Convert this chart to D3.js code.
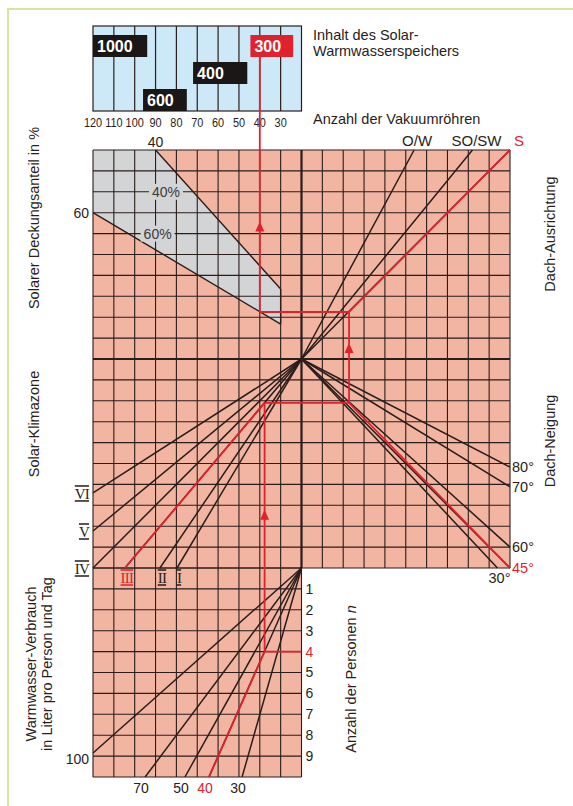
<!DOCTYPE html>
<html><head><meta charset="utf-8">
<script src="https://cdn.jsdelivr.net/npm/d3@7"></script>
<style>body{margin:0;background:#fff}svg{display:block}</style>
</head><body><svg id="c" width="573" height="806"></svg>
<script>
// ---------- data (grid units: u = columns from centre, v = rows from centre) ----------
const storageLabels = ["1000", "600", "400", "300"];
const storageFrom   = [120, 96, 72, 44.5];   // tube value of box left edge
const storageTo     = [94, 75, 46, 24];      // tube value of box right edge
const storageLevel  = [0, 2, 1, 0];
const tubeTicks     = [120, 110, 100, 90, 80, 70, 60, 50, 40, 30];

const coverageLabels   = ["40%", "60%"];
const coverageEndNames = ["40", "60"];
const coverageStart    = [[-7, 10], [-10, 7]];
const coverageEnd      = [[-1, 3.35], [-1, 1.67]];

const orientations   = ["O/W", "SO/SW", "S"];
const orientationEnd = [[5.4, 10], [8.2, 10], [10, 10]];

const tilts   = ["80°", "70°", "60°", "45°", "30°"];
const tiltEnd = [[10, -5.17], [10, -6.12], [10, -9.0], [10, -10], [9.4, -10]];

const zones   = ["VI", "V", "IV", "III", "II", "I"];
const zoneEnd = [[-10, -6.41], [-10, -8.23], [-10, -10], [-8.47, -10], [-6.79, -10], [-5.97, -10]];

const liters   = ["100", "70", "50", "40", "30"];
const literEnd = [[-10, -18.85], [-7.5, -20], [-5.59, -20], [-4.44, -20], [-2.85, -20]];

const persons = [1, 2, 3, 4, 5, 6, 7, 8, 9];

// worked example (red)
const exPersons = 4, exLiters = "40", exZone = "III", exTilt = "45°", exOrient = "S", exStorage = "300";
const exVerticalU   = [-1.77, 2.28, -2.0];  // lower, right, top vertical
const exHorizontalV = [-2.1, 2.25];          // zone junction, orientation junction

// ---------- setup ----------
const RED = "#e1222e", INK = "#2a1d1b", SALMON = "#f2b5a1", GREY = "#d3d4d6", BLUE = "#cde9f7";
const FONT = "'Liberation Sans', Arial, sans-serif";
const svg = d3.select("#c");
const xU = d3.scaleLinear().domain([-10, 10]).range([93, 510]);
const yV = d3.scaleLinear().domain([10, -20]).range([150, 777]);
const xT = d3.scaleLinear().domain([120, 20]).range([xU(-10), xU(0)]);
const P = p => [xU(p[0]), yV(p[1])];
const line = d3.line();

// frame
svg.append("path").attr("d", "M8,806V9H573").attr("fill", "none")
  .attr("stroke", "#d6e69c").attr("stroke-width", 2);

// ---------- top storage box ----------
const boxTop = 26, boxBot = 111, rowY = l => 35 + l * 27, rowH = 22;
svg.append("rect").attr("x", xT(120)).attr("y", boxTop).attr("width", xT(20) - xT(120))
  .attr("height", boxBot - boxTop).attr("fill", BLUE).attr("stroke", INK).attr("stroke-width", 1.2);
svg.selectAll(".tv").data(tubeTicks.slice(1)).join("line")
  .attr("x1", d => xT(d)).attr("x2", d => xT(d)).attr("y1", boxTop).attr("y2", boxBot)
  .attr("stroke", INK).attr("stroke-width", 1.2);
svg.selectAll(".tt").data(tubeTicks).join("text")
  .attr("transform", d => `translate(${xT(d)},122) scale(0.84,1)`).attr("dy", "0.35em").attr("text-anchor", "middle")
  .attr("font-family", FONT).attr("font-size", 13).attr("fill", INK).text(d => d);

// ---------- grid background ----------
svg.append("rect").attr("x", xU(-10)).attr("y", yV(10)).attr("width", xU(10) - xU(-10))
  .attr("height", yV(-10) - yV(10)).attr("fill", SALMON);
svg.append("rect").attr("x", xU(-10)).attr("y", yV(-10)).attr("width", xU(0) - xU(-10))
  .attr("height", yV(-20) - yV(-10)).attr("fill", SALMON);

// grey coverage band
const greyPoly = [[-10, 10], coverageStart[0], coverageEnd[0], coverageEnd[1], coverageStart[1]];
svg.append("path").attr("d", line(greyPoly.map(P)) + "Z").attr("fill", GREY);

// grid lines
const g = svg.append("g").attr("stroke", INK).attr("stroke-width", 1.1);
d3.range(-10, 11).forEach(k => {
  g.append("line").attr("x1", xU(k)).attr("x2", xU(k)).attr("y1", yV(10)).attr("y2", yV(-10));
  g.append("line").attr("x1", xU(-10)).attr("x2", xU(10)).attr("y1", yV(k)).attr("y2", yV(k));
});
d3.range(-10, 1).forEach(k => {
  g.append("line").attr("x1", xU(k)).attr("x2", xU(k)).attr("y1", yV(-10)).attr("y2", yV(-20));
});
d3.range(-20, -9).forEach(k => {
  g.append("line").attr("x1", xU(-10)).attr("x2", xU(0)).attr("y1", yV(k)).attr("y2", yV(k));
});
g.append("line").attr("x1", xU(0)).attr("x2", xU(0)).attr("y1", yV(10)).attr("y2", yV(-10)).attr("stroke-width", 2.2);
g.append("line").attr("x1", xU(-10)).attr("x2", xU(10)).attr("y1", yV(0)).attr("y2", yV(0)).attr("stroke-width", 2.2);

// coverage lines
coverageStart.forEach((s, i) => {
  svg.append("path").attr("d", line([s, coverageEnd[i]].map(P))).attr("stroke", INK).attr("stroke-width", 1.4).attr("fill", "none");
});
svg.append("line").attr("x1", xU(-1)).attr("x2", xU(-1)).attr("y1", yV(coverageEnd[0][1])).attr("y2", yV(coverageEnd[1][1]))
  .attr("stroke", INK).attr("stroke-width", 1.4);
// coverage labels with grey background
const covLabelPos = [[-6.5, 8], [-6.9, 6]];
coverageLabels.forEach((t, i) => {
  const [x, y] = P(covLabelPos[i]);
  svg.append("rect").attr("x", x - 17).attr("y", y - 8).attr("width", 34).attr("height", 16).attr("fill", GREY);
  svg.append("text").attr("x", x).attr("y", y).attr("dy", "0.35em").attr("text-anchor", "middle")
    .attr("font-family", FONT).attr("font-size", 14).attr("fill", "#3b3b3b").text(t);
});

// fan lines
const fan = svg.append("g").attr("stroke", INK).attr("stroke-width", 1.5).attr("fill", "none");
[...orientationEnd, ...tiltEnd, ...zoneEnd].forEach(e => fan.append("path").attr("d", line([[0, 0], e].map(P))));
literEnd.forEach(e => fan.append("path").attr("d", line([[0, -10], e].map(P))));

// ---------- worked example (red) ----------
const vP = -10 - exPersons;
const [uL, uR, uT] = exVerticalU, [vZ, vO] = exHorizontalV;
const red = svg.append("g").attr("stroke", RED).attr("stroke-width", 1.8).attr("fill", "none");
const seg = (a, b) => red.append("path").attr("d", line([a, b].map(P)));
seg([0, vP], [uL, vP]);
seg(literEnd[liters.indexOf(exLiters)], [uL, vP]);
seg([uL, vP], [uL, vZ]);
seg(zoneEnd[zones.indexOf(exZone)], [uL, vZ]);
seg([uL, vZ], [uR, vZ]);
seg([uR, vZ], tiltEnd[tilts.indexOf(exTilt)]);
seg([uR, vZ], [uR, vO]);
seg([uR, vO], orientationEnd[orientations.indexOf(exOrient)]);
seg([uR, vO], [uT, vO]);
const sIdx = storageLabels.indexOf(exStorage);
red.append("line").attr("x1", xU(uT)).attr("x2", xU(uT)).attr("y1", yV(vO)).attr("y2", rowY(storageLevel[sIdx]) + rowH / 2);

function arrow(x, yTip) {
  svg.append("path").attr("d", `M${x},${yTip}L${x - 4.5},${yTip + 10}L${x + 4.5},${yTip + 10}Z`).attr("fill", RED);
}
const arrowFrac = [0.57, 0.66, 0.34];
arrow(xU(uL), yV(vP) + (yV(vZ) - yV(vP)) * arrowFrac[0]);
arrow(xU(uR), yV(vZ) + (yV(vO) - yV(vZ)) * arrowFrac[1]);
arrow(xU(uT), yV(vO) + (rowY(0) + rowH / 2 - yV(vO)) * arrowFrac[2]);

// storage labels
storageLabels.forEach((t, i) => {
  const x0 = xT(storageFrom[i]), x1 = xT(storageTo[i]), y = rowY(storageLevel[i]);
  svg.append("rect").attr("x", x0).attr("y", y).attr("width", x1 - x0).attr("height", rowH)
    .attr("fill", t === exStorage ? RED : "#1b1716");
  svg.append("text").attr("x", x0 + 4).attr("y", y + rowH / 2).attr("dy", "0.36em")
    .attr("font-family", FONT).attr("font-weight", "bold").attr("font-size", 16).attr("fill", "#fff").text(t);
});

// ---------- labels ----------
const txt = (x, y, s, opt = {}) => svg.append("text").attr("x", x).attr("y", y).attr("dy", opt.dy ?? "0.35em")
  .attr("text-anchor", opt.anchor || "start").attr("font-family", opt.font || FONT)
  .attr("font-size", opt.size || 14).attr("fill", opt.color || INK).text(s);

// coverage end labels
txt(xU(coverageStart[0][0]), yV(10) - 8, coverageEndNames[0], { anchor: "middle" });
txt(xU(coverageStart[1][0]) - 4, yV(coverageStart[1][1]), coverageEndNames[1], { anchor: "end" });

// orientation labels
const oDx = [3, 4, 9];
orientations.forEach((t, i) => txt(xU(orientationEnd[i][0]) + oDx[i], yV(10) - 9, t,
  { anchor: "middle", size: 15, color: t === exOrient ? RED : INK }));

// tilt labels
tilts.forEach((t, i) => {
  const e = tiltEnd[i], c = t === exTilt ? RED : INK;
  if (e[0] >= 10) txt(xU(10) + 2, yV(e[1]), t, { color: c, size: 14.5 });
  else txt(xU(e[0]) + 2, yV(-10) + 10, t, { anchor: "middle", color: c, size: 14.5 });
});

// zone labels (roman numerals with bars)
zones.forEach((t, i) => {
  const e = zoneEnd[i], c = t === exZone ? RED : INK;
  const el = e[0] <= -10 ? txt(xU(-10) - 4, yV(e[1]) + 1, t, { anchor: "end", color: c, size: 15, font: "'Liberation Serif', serif" })
                         : txt(xU(e[0]) + 2, yV(-10) + 10, t, { anchor: "middle", color: c, size: 15, font: "'Liberation Serif', serif" });
  el.style("text-decoration", "underline overline").attr("letter-spacing", -0.8);
});

// liter labels
liters.forEach((t, i) => {
  const e = literEnd[i], c = t === exLiters ? RED : INK;
  if (e[0] <= -10) txt(xU(-10) - 4, yV(e[1]) + 6, t, { anchor: "end", color: c });
  else txt(xU(e[0]) - 4, yV(-20) + 11, t, { anchor: "middle", color: c });
});

// persons labels
persons.forEach(n => txt(xU(0) + 4, yV(-10 - n), n, { color: n === exPersons ? RED : INK }));

// titles
txt(313, 40, "Inhalt des Solar-", { dy: 0, size: 14.5 });
txt(313, 56, "Warmwasserspeichers", { dy: 0, size: 14.5 });
txt(313, 124, "Anzahl der Vakuumröhren", { dy: 0, size: 14.5 });

function vtext(x, y, lines, size = 14.5) {
  const t = svg.append("text").attr("transform", `translate(${x},${y}) rotate(-90)`).attr("text-anchor", "middle")
    .attr("font-family", FONT).attr("font-size", size).attr("fill", INK);
  lines.forEach((l, i) => t.append("tspan").attr("x", 0).attr("y", i * 16).text(l));
  return t;
}
vtext(39, 218, ["Solarer Deckungsanteil in %"]);
vtext(39, 424, ["Solar-Klimazone"]);
vtext(36, 664, ["Warmwasser-Verbrauch", "in Liter pro Person und Tag"]);
vtext(555, 234, ["Dach-Ausrichtung"]);
vtext(555, 441, ["Dach-Neigung"]);
const pt = svg.append("text").attr("transform", "translate(356,679) rotate(-90)").attr("text-anchor", "middle")
  .attr("font-family", FONT).attr("font-size", 14.5).attr("fill", INK);
pt.append("tspan").text("Anzahl der Personen ");
pt.append("tspan").attr("font-style", "italic").text("n");
</script></body></html>
